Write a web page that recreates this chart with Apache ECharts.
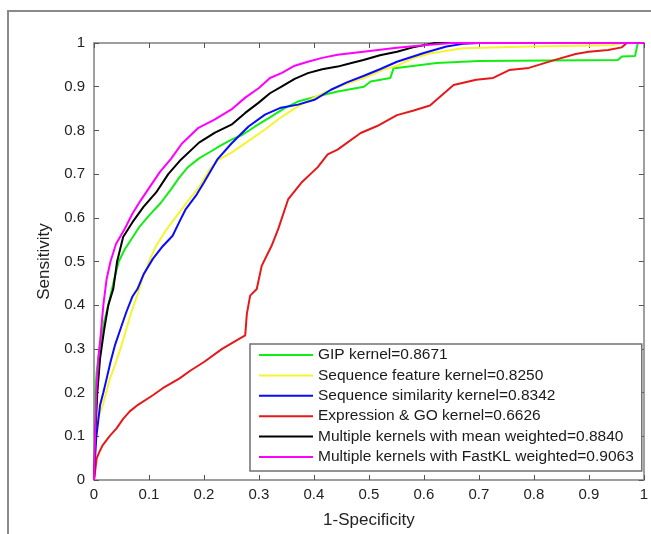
<!DOCTYPE html>
<html>
<head>
<meta charset="utf-8">
<script src="https://cdn.jsdelivr.net/npm/echarts@6.0.0/dist/echarts.min.js"></script>
<style>
    html, body { margin: 0; padding: 0; background: #fff; }
    #roc { width: 651px; height: 534px; }
</style>
</head>
<body>
<div id="roc"></div>
<script>
// ROC curves, [1-specificity, sensitivity]
var seriesNames = [
    'GIP kernel=0.8671',
    'Sequence feature kernel=0.8250',
    'Sequence similarity kernel=0.8342',
    'Expression & GO kernel=0.6626',
    'Multiple kernels with mean weighted=0.8840',
    'Multiple kernels with FastKL weighted=0.9063'
];
var seriesColors = ['#11ee11', '#f4f432', '#0a0aff', '#e41a1a', '#000000', '#ff00ff'];

var gipKernel = [[0,0],[0.001,0.1],[0.002,0.2],[0.005,0.25],[0.01,0.3],[0.018,0.36],[0.026,0.40],[0.035,0.45],[0.045,0.5],[0.056,0.528],[0.07,0.555],[0.083,0.58],[0.1,0.605],[0.122,0.635],[0.14,0.665],[0.155,0.692],[0.17,0.715],[0.191,0.736],[0.21,0.75],[0.23,0.765],[0.25,0.779],[0.27,0.79],[0.293,0.809],[0.32,0.83],[0.345,0.85],[0.371,0.866],[0.407,0.878],[0.443,0.889],[0.491,0.90],[0.503,0.912],[0.539,0.92],[0.545,0.943],[0.551,0.943],[0.623,0.954],[0.70,0.959],[0.953,0.961],[0.96,0.969],[0.984,0.97],[0.989,1.0],[1,1]];
var seqFeature = [[0,0],[0.001,0.05],[0.003,0.1],[0.005,0.134],[0.016,0.171],[0.029,0.232],[0.04,0.27],[0.05,0.308],[0.06,0.35],[0.068,0.385],[0.078,0.42],[0.088,0.46],[0.1,0.5],[0.113,0.536],[0.13,0.57],[0.155,0.612],[0.175,0.645],[0.191,0.67],[0.21,0.71],[0.227,0.733],[0.25,0.749],[0.28,0.775],[0.311,0.802],[0.34,0.83],[0.371,0.855],[0.40,0.875],[0.431,0.893],[0.46,0.907],[0.491,0.92],[0.527,0.939],[0.551,0.948],[0.58,0.965],[0.611,0.976],[0.671,0.988],[0.791,0.992],[0.942,0.995],[0.96,1],[1,1]];
var seqSimilarity = [[0,0],[0.002,0.05],[0.004,0.096],[0.011,0.171],[0.017,0.2],[0.023,0.232],[0.03,0.27],[0.038,0.308],[0.048,0.345],[0.059,0.385],[0.07,0.42],[0.079,0.437],[0.09,0.47],[0.107,0.506],[0.125,0.535],[0.143,0.559],[0.155,0.59],[0.167,0.62],[0.185,0.65],[0.2,0.681],[0.224,0.733],[0.25,0.77],[0.281,0.809],[0.311,0.836],[0.34,0.852],[0.371,0.859],[0.401,0.87],[0.431,0.893],[0.46,0.91],[0.491,0.925],[0.52,0.94],[0.551,0.957],[0.6,0.977],[0.641,0.992],[0.671,0.998],[0.7,1],[1,1]];
var exprGo = [[0,0],[0.003,0.03],[0.005,0.05],[0.01,0.065],[0.016,0.08],[0.028,0.1],[0.041,0.118],[0.053,0.14],[0.065,0.157],[0.08,0.172],[0.107,0.194],[0.125,0.21],[0.155,0.232],[0.175,0.25],[0.2,0.27],[0.233,0.30],[0.26,0.32],[0.275,0.331],[0.278,0.38],[0.284,0.422],[0.296,0.437],[0.305,0.49],[0.323,0.536],[0.335,0.574],[0.353,0.642],[0.377,0.68],[0.407,0.716],[0.425,0.745],[0.443,0.756],[0.485,0.794],[0.515,0.81],[0.551,0.835],[0.58,0.845],[0.611,0.857],[0.654,0.904],[0.695,0.916],[0.726,0.92],[0.755,0.938],[0.791,0.943],[0.84,0.962],[0.876,0.975],[0.90,0.98],[0.935,0.984],[0.96,0.99],[0.969,1],[1,1]];
var meanWeighted = [[0,0],[0.003,0.12],[0.006,0.2],[0.011,0.278],[0.018,0.34],[0.026,0.40],[0.035,0.437],[0.042,0.5],[0.053,0.556],[0.07,0.59],[0.09,0.625],[0.113,0.658],[0.135,0.7],[0.158,0.733],[0.191,0.772],[0.22,0.795],[0.25,0.813],[0.275,0.84],[0.299,0.863],[0.32,0.885],[0.341,0.90],[0.365,0.918],[0.389,0.931],[0.415,0.94],[0.443,0.946],[0.47,0.955],[0.49,0.961],[0.52,0.972],[0.551,0.98],[0.58,0.99],[0.62,1.0],[1,1]];
var fastKlWeighted = [[0,0],[0.002,0.1],[0.004,0.2],[0.008,0.28],[0.012,0.33],[0.017,0.40],[0.023,0.46],[0.03,0.5],[0.04,0.54],[0.056,0.575],[0.07,0.61],[0.085,0.64],[0.10,0.668],[0.12,0.705],[0.14,0.735],[0.16,0.77],[0.19,0.806],[0.22,0.825],[0.25,0.848],[0.275,0.875],[0.30,0.897],[0.32,0.92],[0.341,0.931],[0.365,0.948],[0.389,0.957],[0.415,0.966],[0.443,0.973],[0.49,0.98],[0.551,0.989],[0.6,0.995],[0.65,1.0],[1,1]];

var curves = [gipKernel, seqFeature, seqSimilarity, exprGo, meanWeighted, fastKlWeighted];

var chart = echarts.init(document.getElementById('roc'));

var axisGray = '#808080';
var font = 'Liberation Sans, Arial, sans-serif';

function frameAxis(pos, showLabel) {
    return {
        type: 'value',
        position: pos,
        min: 0,
        max: 1,
        interval: 0.1,
        splitLine: { show: false },
        axisLine: { show: true, onZero: false, lineStyle: { color: axisGray, width: 1.5 } },
        axisTick: { show: true, inside: true, length: 5, lineStyle: { color: '#555', width: 1 } },
        axisLabel: { show: showLabel, color: '#222', fontSize: 15, fontFamily: font, margin: 9 }
    };
}

var xBottom = frameAxis('bottom', true);
xBottom.name = '1-Specificity';
xBottom.nameLocation = 'middle';
xBottom.nameGap = 32;
xBottom.nameTextStyle = { color: '#222', fontSize: 17, fontFamily: font };
xBottom.axisLabel.margin = 7;

var yLeft = frameAxis('left', true);
yLeft.name = 'Sensitivity';
yLeft.nameLocation = 'middle';
yLeft.nameGap = 34;
yLeft.nameTextStyle = { color: '#222', fontSize: 17, fontFamily: font };

var series = [];
for (var i = 0; i < curves.length; i++) {
    series.push({
        name: seriesNames[i],
        type: 'line',
        data: curves[i],
        symbol: 'none',
        xAxisIndex: 0,
        yAxisIndex: 0,
        lineStyle: { color: seriesColors[i], width: 2 },
        itemStyle: { color: seriesColors[i] },
        z: 3 + i
    });
}

var option = {
    animation: false,
    backgroundColor: '#fff',
    graphic: [{
        type: 'rect',
        shape: { x: 8, y: 11, width: 800, height: 800 },
        style: { fill: 'none', stroke: '#8a8a8a', lineWidth: 2 },
        z: -1
    }],
    grid: { left: 94, right: 2, top: 43, bottom: 52, containLabel: false },
    legend: {
        orient: 'vertical',
        left: 250,
        top: 344,
        padding: [3, 8, 6, 8],
        itemGap: 4.4,
        itemWidth: 54,
        itemHeight: 16,
        itemStyle: { opacity: 0 },
        backgroundColor: '#fff',
        borderColor: '#707070',
        borderWidth: 1.5,
        borderRadius: 0,
        textStyle: { color: '#1a1a1a', fontSize: 15.5, fontFamily: font },
        data: seriesNames
    },
    xAxis: [xBottom, frameAxis('top', false)],
    yAxis: [yLeft, frameAxis('right', false)],
    series: series
};
chart.setOption(option);
</script>
</body>
</html>
